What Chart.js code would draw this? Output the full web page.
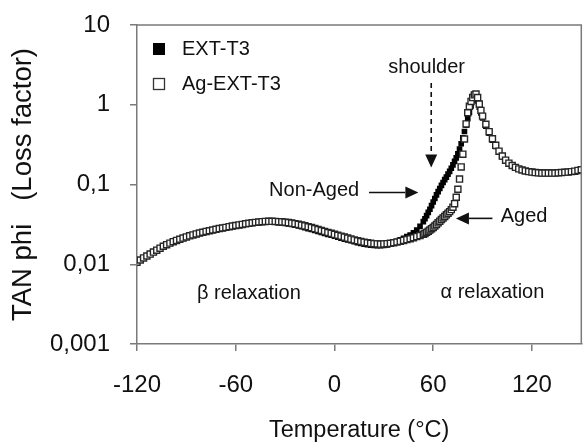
<!DOCTYPE html>
<html>
<head>
<meta charset="utf-8">
<title>TAN phi vs temperature</title>
<script src="https://cdn.jsdelivr.net/npm/chart.js@4.4.1/dist/chart.umd.min.js"></script>
<style>
  html, body { margin: 0; padding: 0; background: #fff; }
  #wrap { width: 587px; height: 446px; position: relative; }
</style>
</head>
<body>
<div id="wrap"><canvas id="dmaChart"></canvas></div>
<script>
// temperature of each reading (°C)
const temperature = [
  -120, -118, -116, -114, -112, -110, -108, -106, -104, -102,
  -100, -98, -96, -94, -92, -90, -88, -86, -84, -82,
  -80, -78, -76, -74, -72, -70, -68, -66, -64, -62,
  -60, -58, -56, -54, -52, -50, -48, -46, -44, -42,
  -40, -38, -36, -34, -32, -30, -28, -26, -24, -22,
  -20, -18, -16, -14, -12, -10, -8, -6, -4, -2,
  0, 2, 4, 6, 8, 10, 12, 14, 16, 18,
  20, 22, 24, 26, 28, 30, 32, 34, 36, 38,
  40, 42, 44, 46, 48, 50, 52, 54,
  55, 56, 57, 58, 59, 60, 61, 62, 63, 64,
  65, 66, 67, 68, 69, 70, 71, 72, 73, 74,
  75, 76, 77, 78, 79, 80, 81, 82, 83, 84,
  85, 86, 87, 88, 89, 90,
  92, 94, 96, 98, 100, 102, 104, 106, 108, 110,
  112, 114, 116, 118, 120, 122, 124, 126, 128, 130,
  132, 134, 136, 138, 140, 142, 144, 146, 148, 150
];

// EXT-T3 (non-aged)
const tanNonAged = [
  0.0106, 0.0113, 0.0119, 0.0126, 0.0133, 0.0141, 0.0149, 0.0157, 0.0166, 0.0175,
  0.0183, 0.0190, 0.0197, 0.0204, 0.0211, 0.0218, 0.0225, 0.0231, 0.0237, 0.0243,
  0.0249, 0.0255, 0.0260, 0.0266, 0.0271, 0.0276, 0.0281, 0.0286, 0.0292, 0.0297,
  0.0302, 0.0307, 0.0312, 0.0317, 0.0321, 0.0325, 0.0329, 0.0333, 0.0336, 0.0338,
  0.0339, 0.0338, 0.0336, 0.0333, 0.0330, 0.0326, 0.0321, 0.0315, 0.0309, 0.0302,
  0.0295, 0.0288, 0.0280, 0.0273, 0.0265, 0.0258, 0.0251, 0.0244, 0.0237, 0.0231,
  0.0225, 0.0219, 0.0213, 0.0207, 0.0202, 0.0197, 0.0192, 0.0187, 0.0183, 0.0179,
  0.0176, 0.0174, 0.0172, 0.0171, 0.0171, 0.0172, 0.0175, 0.0179, 0.0185, 0.0193,
  0.0202, 0.0212, 0.0223, 0.0232, 0.0248, 0.0269, 0.0299, 0.0343,
  0.0372, 0.0407, 0.0447, 0.0490, 0.0543, 0.0603, 0.0668, 0.0741, 0.0813, 0.0891,
  0.0977, 0.106, 0.115, 0.124, 0.135, 0.146, 0.160, 0.176, 0.195, 0.216,
  0.243, 0.279, 0.324, 0.385, 0.462, 0.556, 0.668, 0.804, 0.966, 1.16,
  1.35, 1.32, 1.12, 0.93, 0.79, 0.684,
  0.54, 0.44, 0.36, 0.30, 0.255, 0.222, 0.198, 0.182, 0.170, 0.162,
  0.156, 0.151, 0.147, 0.144, 0.142, 0.140, 0.139, 0.138, 0.138, 0.138,
  0.138, 0.139, 0.139, 0.140, 0.141, 0.142, 0.144, 0.146, 0.149, 0.152
];

// Ag-EXT-T3 (aged)
const tanAged = [
  0.0106, 0.0113, 0.0120, 0.0127, 0.0134, 0.0142, 0.0150, 0.0159, 0.0168, 0.0176,
  0.0184, 0.0192, 0.0199, 0.0206, 0.0213, 0.0220, 0.0227, 0.0233, 0.0240, 0.0246,
  0.0252, 0.0258, 0.0263, 0.0269, 0.0274, 0.0280, 0.0285, 0.0290, 0.0296, 0.0301,
  0.0306, 0.0311, 0.0316, 0.0321, 0.0326, 0.0331, 0.0335, 0.0339, 0.0342, 0.0344,
  0.0345, 0.0345, 0.0344, 0.0342, 0.0340, 0.0337, 0.0333, 0.0328, 0.0323, 0.0317,
  0.0310, 0.0303, 0.0295, 0.0288, 0.0280, 0.0273, 0.0265, 0.0258, 0.0250, 0.0244,
  0.0237, 0.0231, 0.0225, 0.0219, 0.0213, 0.0207, 0.0202, 0.0197, 0.0193, 0.0189,
  0.0186, 0.0183, 0.0181, 0.0180, 0.0179, 0.0180, 0.0181, 0.0183, 0.0186, 0.0190,
  0.0194, 0.0199, 0.0204, 0.0209, 0.0215, 0.0222, 0.0229, 0.0237,
  0.0243, 0.0251, 0.0260, 0.0269, 0.0279, 0.0288, 0.0302, 0.0316, 0.0331, 0.0347,
  0.0363, 0.0380, 0.0398, 0.0417, 0.0437, 0.0457, 0.0484, 0.0519, 0.0575, 0.0692,
  0.0871, 0.117, 0.166, 0.240, 0.372, 0.575, 0.794, 0.955, 1.10, 1.23,
  1.33, 1.36, 1.23, 1.02, 0.85, 0.72,
  0.57, 0.46, 0.375, 0.31, 0.262, 0.227, 0.202, 0.185, 0.173, 0.164,
  0.157, 0.152, 0.148, 0.145, 0.143, 0.141, 0.140, 0.139, 0.139, 0.139,
  0.139, 0.139, 0.140, 0.141, 0.142, 0.143, 0.145, 0.147, 0.150, 0.153
];

const seriesNames = ["EXT-T3", "Ag-EXT-T3"];
const xTickValues = [-120, -60, 0, 60, 120];
const xTickLabels = ["-120", "-60", "0", "60", "120"];
const yTickValues = [0.001, 0.01, 0.1, 1, 10];
const yTickLabels = ["0,001", "0,01", "0,1", "1", "10"];
const xTitle = "Temperature (°C)";
const yTitle = "TAN phi   (Loss factor)";

// text written on the plot, placed in data units (°C, tan phi)
const notes = [
  { text: "shoulder", x: 56, y: 2.9, align: "center" },
  { text: "Non-Aged", x: 15, y: 0.084, align: "right" },
  { text: "Aged", x: 101, y: 0.040, align: "left" },
  { text: "β relaxation", x: -52, y: 0.00434, align: "center" },
  { text: "α relaxation", x: 96, y: 0.0044, align: "center" }
];
const arrows = [
  { from: [58.8, 1.88], to: [58.8, 0.163], dashed: true },
  { from: [21, 0.0794], to: [51, 0.0794], dashed: false },
  { from: [96, 0.0376], to: [73.8, 0.0376], dashed: false }
];

const FONT = "'Liberation Sans', Arial, sans-serif";
const AXIS_GREY = "#7a7a7a";

function drawArrow(ctx, x1, y1, x2, y2, dashed) {
  const ang = Math.atan2(y2 - y1, x2 - x1);
  const head = 13, half = 6;
  const bx = x2 - head * Math.cos(ang);
  const by = y2 - head * Math.sin(ang);
  ctx.setLineDash(dashed ? [5, 4] : []);
  ctx.beginPath();
  ctx.moveTo(x1, y1);
  ctx.lineTo(bx, by);
  ctx.stroke();
  ctx.setLineDash([]);
  ctx.beginPath();
  ctx.moveTo(x2, y2);
  ctx.lineTo(bx + half * Math.sin(ang), by - half * Math.cos(ang));
  ctx.lineTo(bx - half * Math.sin(ang), by + half * Math.cos(ang));
  ctx.closePath();
  ctx.fill();
}

// frame, legend and the notes
const decorations = {
  id: "decorations",
  afterDatasetsDraw(chart) {
    const { ctx, chartArea: a, scales } = chart;
    const sx = scales.x, sy = scales.y;
    ctx.save();

    ctx.strokeStyle = AXIS_GREY;
    ctx.lineWidth = 1.5;
    ctx.beginPath();
    ctx.moveTo(a.left, a.top);
    ctx.lineTo(a.right, a.top);
    ctx.lineTo(a.right, a.bottom);
    ctx.stroke();

    // legend
    ctx.font = "20px " + FONT;
    ctx.textBaseline = "middle";
    ctx.textAlign = "left";
    chart.data.datasets.forEach((ds, i) => {
      const bx = a.left + 16, by = a.top + 18 + i * 35;
      if (i === 0) {
        ctx.fillStyle = "#000";
        ctx.fillRect(bx, by, 12, 12);
      } else {
        ctx.fillStyle = "#fff";
        ctx.fillRect(bx, by, 12, 12);
        ctx.strokeStyle = "#333";
        ctx.lineWidth = 1.3;
        ctx.strokeRect(bx + 0.5, by + 0.5, 11, 11);
      }
      ctx.fillStyle = "#111";
      ctx.fillText(ds.label, bx + 29, by + 6);
    });

    ctx.fillStyle = "#111";
    ctx.strokeStyle = "#111";
    ctx.lineWidth = 1.6;
    arrows.forEach(ar => {
      drawArrow(ctx,
        sx.getPixelForValue(ar.from[0]), sy.getPixelForValue(ar.from[1]),
        sx.getPixelForValue(ar.to[0]), sy.getPixelForValue(ar.to[1]),
        ar.dashed);
    });

    ctx.font = "20px " + FONT;
    ctx.textBaseline = "middle";
    notes.forEach(n => {
      ctx.textAlign = n.align;
      ctx.fillText(n.text, sx.getPixelForValue(n.x), sy.getPixelForValue(n.y));
    });
    ctx.restore();
  }
};

const ctx = document.getElementById("dmaChart").getContext("2d");

new Chart(ctx, {
  type: "scatter",
  data: {
    datasets: [
      {
        label: seriesNames[0],
        data: temperature.map((t, i) => ({ x: t, y: tanNonAged[i] })),
        pointStyle: "rect",
        pointRadius: 4,
        backgroundColor: "#000",
        borderColor: "#000",
        borderWidth: 0,
        order: 2
      },
      {
        label: seriesNames[1],
        data: temperature.map((t, i) => ({ x: t, y: tanAged[i] })),
        pointStyle: "rect",
        pointRadius: 4.3,
        backgroundColor: "#fff",
        borderColor: "#262626",
        borderWidth: 1.4,
        order: 1
      }
    ]
  },
  options: {
    responsive: true,
    maintainAspectRatio: false,
    animation: false,
    devicePixelRatio: 1,
    layout: { padding: { top: 25, right: 2, left: 0, bottom: 0 } },
    plugins: {
      legend: { display: false },
      tooltip: { enabled: false }
    },
    scales: {
      x: {
        type: "linear",
        min: -120,
        max: 150,
        afterFit: (scale) => {
          scale.height = 102;
          scale.paddingLeft = 0;
          scale.paddingRight = 0;
        },
        afterBuildTicks: (scale) => { scale.ticks = xTickValues.map(v => ({ value: v })); },
        grid: { drawOnChartArea: false, drawTicks: true, tickLength: 7, color: AXIS_GREY, lineWidth: 1.5 },
        border: { display: true, color: AXIS_GREY, width: 1.5 },
        ticks: {
          color: "#111",
          font: { family: FONT, size: 24 },
          padding: 20,
          maxRotation: 0,
          callback: (v, i) => xTickLabels[i]
        },
        title: {
          display: true,
          text: xTitle,
          color: "#111",
          font: { family: FONT, size: 23.5 },
          padding: { top: 0, bottom: 1 }
        }
      },
      y: {
        type: "logarithmic",
        min: 0.001,
        max: 10,
        afterFit: (scale) => {
          scale.width = 137;
          scale.paddingTop = 0;
          scale.paddingBottom = 0;
        },
        afterBuildTicks: (scale) => { scale.ticks = yTickValues.map(v => ({ value: v })); },
        grid: { drawOnChartArea: false, drawTicks: true, tickLength: 7, color: AXIS_GREY, lineWidth: 1.5 },
        border: { display: true, color: AXIS_GREY, width: 1.5 },
        ticks: {
          color: "#111",
          font: { family: FONT, size: 24 },
          padding: 20,
          callback: (v, i) => yTickLabels[i]
        },
        title: {
          display: true,
          text: yTitle,
          color: "#111",
          font: { family: FONT, size: 27.5 },
          padding: { top: 7, bottom: 0 }
        }
      }
    }
  },
  plugins: [decorations]
});
</script>
</body>
</html>
